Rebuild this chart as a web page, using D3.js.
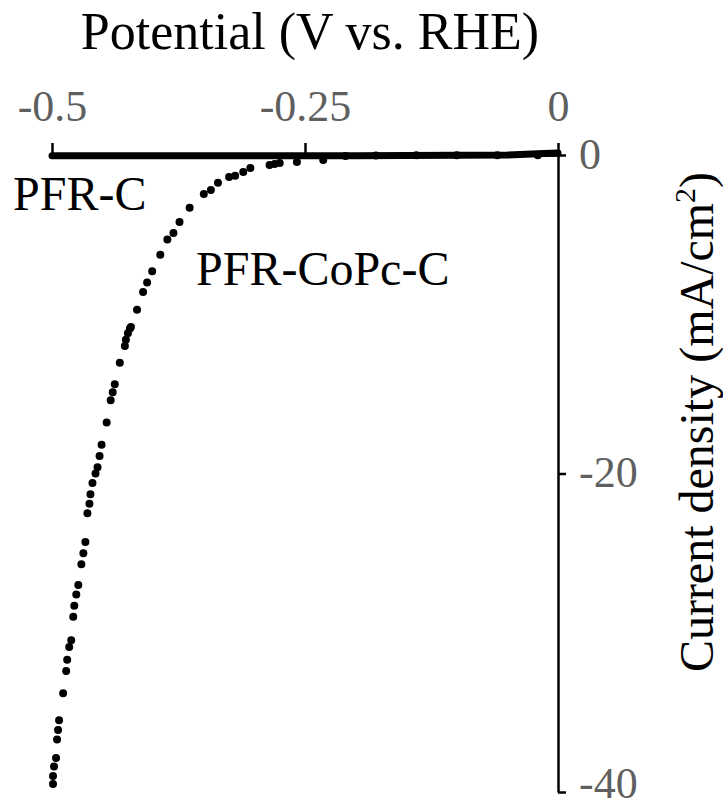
<!DOCTYPE html>
<html>
<head>
<meta charset="utf-8">
<script src="https://cdn.jsdelivr.net/npm/d3@7"></script>
<style>
  html, body { margin: 0; padding: 0; background: #fff; }
  svg { display: block; }
</style>
</head>
<body>
<svg id="chart" width="723" height="810"></svg>
<script>
// ---- Data ----
const xTicks = [-0.5, -0.25, 0];
const xTickLabels = ["-0.5", "-0.25", "0"];
const yTicks = [0, -20, -40];
const yTickLabels = ["0", "-20", "-40"];

// PFR-C : flat trace near zero current
const pfrcPotential = [-0.5, -0.45, -0.4, -0.35, -0.3, -0.25, -0.2, -0.15, -0.1, -0.05, -0.02, 0];
const pfrcCurrent   = [-0.05, -0.05, -0.05, -0.05, -0.05, -0.05, -0.05, -0.03, -0.02, 0.0, 0.08, 0.12];

// PFR-CoPc-C : discrete measured points (dots and clustered groups)
const copcPotential = [
  -0.02, -0.06, -0.1, -0.14, -0.18, -0.21,
  -0.232, -0.258, -0.275, -0.28, -0.285,
  -0.304, -0.311, -0.319, -0.325,
  -0.336, -0.343, -0.350, -0.364,
  -0.374, -0.380, -0.386, -0.393,
  -0.401, -0.406, -0.410, -0.416,
  -0.422, -0.425, -0.427,
  -0.423, -0.428, -0.433,
  -0.438, -0.440, -0.442, -0.446,
  -0.451, -0.453, -0.455, -0.457,
  -0.460, -0.462, -0.463, -0.465,
  -0.467, -0.469, -0.471, -0.474,
  -0.476, -0.478, -0.479, -0.481,
  -0.483, -0.485, -0.486, -0.489,
  -0.493, -0.494, -0.495, -0.496,
  -0.498, -0.499, -0.499
];
const copcCurrent = [
  -0.01, -0.01, -0.02, -0.02, -0.03, -0.06,
  -0.31, -0.44, -0.5, -0.56, -0.63,
  -0.82, -1.07, -1.3, -1.38,
  -1.75, -2.2, -2.45, -3.32,
  -4.20, -4.90, -5.30, -6.27,
  -7.30, -8.0, -8.60, -9.72,
  -10.8, -11.2, -11.6,
  -10.9, -12.0, -13.04,
  -14.4, -14.9, -15.4, -16.8,
  -18.2, -18.9, -19.6, -20.0,
  -20.6, -21.3, -21.9, -22.5,
  -24.3, -25.0, -25.7, -27.0,
  -27.6, -28.3, -29.0, -30.47,
  -30.9, -31.7, -32.4, -33.8,
  -35.5, -36.1, -36.7, -37.87,
  -38.4, -39.0, -39.5
];

// ---- Chart ----
const FONT = "'Liberation Serif', 'DejaVu Serif', 'Times New Roman', Times, serif";
const svg = d3.select("#chart");
const x = d3.scaleLinear().domain([-0.5, 0]).range([52, 558]);
const y = d3.scaleLinear().domain([-40, 0]).range([792, 155]);

// Top x axis
const xAxis = d3.axisTop(x)
  .tickValues(xTicks)
  .tickFormat((d, i) => xTickLabels[i])
  .tickSize(12)
  .tickSizeOuter(0)
  .tickPadding(22);
const gx = svg.append("g").attr("transform", `translate(0,${y(0)})`).call(xAxis);
gx.attr("font-family", null);
gx.select(".domain").attr("stroke", "#000").attr("stroke-width", 2.5);
gx.selectAll(".tick line").attr("stroke", "#000").attr("stroke-width", 2.5);
gx.selectAll(".tick text")
  .attr("fill", "#5f5f5f")
  .attr("font-size", 44)
  .style("font-family", FONT)
  .attr("dy", "0em");

// Right y axis
const yAxis = d3.axisRight(y)
  .tickValues(yTicks)
  .tickFormat((d, i) => yTickLabels[i])
  .tickSize(8)
  .tickSizeOuter(0)
  .tickPadding(13);
const gy = svg.append("g").attr("transform", `translate(${x(0)},0)`).call(yAxis);
gy.attr("font-family", null);
gy.select(".domain").attr("stroke", "#000").attr("stroke-width", 2.5);
gy.selectAll(".tick line").attr("stroke", "#000").attr("stroke-width", 2.5);
gy.selectAll(".tick text")
  .attr("fill", "#5f5f5f")
  .attr("font-size", 44)
  .style("font-family", FONT)
  .attr("dy", d => d === -40 ? "0.12em" : "0.3em");

// PFR-C line
const pfrc = pfrcPotential.map((p, i) => [p, pfrcCurrent[i]]);
svg.append("path")
  .datum(pfrc)
  .attr("fill", "none")
  .attr("stroke", "#000")
  .attr("stroke-width", 7)
  .attr("stroke-linecap", "round")
  .attr("stroke-linejoin", "round")
  .attr("d", d3.line().x(d => x(d[0])).y(d => y(d[1])));

// PFR-CoPc-C points
const copc = copcPotential.map((p, i) => [p, copcCurrent[i]]);
svg.append("g").selectAll("circle")
  .data(copc)
  .join("circle")
  .attr("cx", d => x(d[0]))
  .attr("cy", d => y(d[1]))
  .attr("r", 3.2)
  .attr("fill", "#000")
  .attr("stroke", "#000")
  .attr("stroke-width", 1.6);

// Titles and labels
svg.append("text")
  .attr("x", 310).attr("y", 49)
  .attr("text-anchor", "middle")
  .attr("font-size", 52)
  .style("font-family", FONT)
  .attr("fill", "#000")
  .text("Potential (V vs. RHE)");

const yt = svg.append("text")
  .attr("transform", "translate(713,422) rotate(-90)")
  .attr("text-anchor", "middle")
  .attr("font-size", 48)
  .style("font-family", FONT)
  .attr("fill", "#000");
yt.append("tspan").text("Current density (mA/cm");
yt.append("tspan").attr("font-size", 30).attr("dy", -18).text("2");
yt.append("tspan").attr("dy", 18).text(")");

svg.append("text")
  .attr("x", 13).attr("y", 210)
  .attr("font-size", 48)
  .style("font-family", FONT)
  .attr("fill", "#000")
  .text("PFR-C");

svg.append("text")
  .attr("x", 196).attr("y", 285)
  .attr("font-size", 48)
  .style("font-family", FONT)
  .attr("fill", "#000")
  .text("PFR-CoPc-C");
</script>
</body>
</html>
